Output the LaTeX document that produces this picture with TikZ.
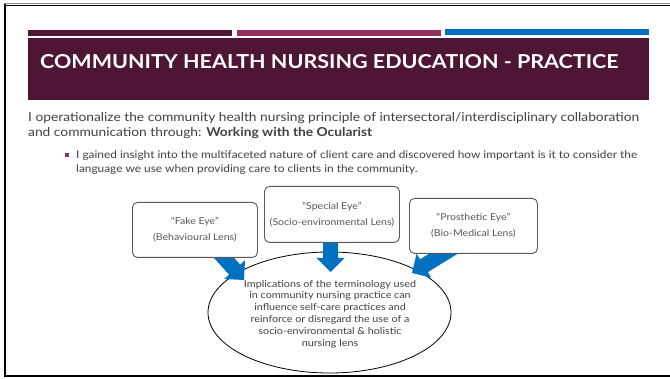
\documentclass[tikz,border=0pt]{standalone}
\usepackage{fontspec}
\setmainfont{Lato}[FakeStretch=1.12]
\usetikzlibrary{calc,shapes.geometric,backgrounds}
\definecolor{plum}{HTML}{4E1634}
\definecolor{mauve}{HTML}{92325F}
\definecolor{oblue}{HTML}{0070C0}
\definecolor{bodygray}{HTML}{404040}
\definecolor{boxgray}{HTML}{595959}
\newcommand\BlockArrow[2]{%
  \coordinate (hb) at ($(#2)!14pt!(#1)$);
  \fill[oblue] ($(hb)!7.5pt!90:(#2)$) -- ($(hb)!14pt!90:(#2)$) -- (#2)
     -- ($(hb)!14pt!-90:(#2)$) -- ($(hb)!7.5pt!-90:(#2)$)
     -- ($(#1)!7.5pt!-90:(#2)$) -- ($(#1)!7.5pt!90:(#2)$) -- cycle;}
\begin{document}
\begin{tikzpicture}[x=1pt,y=-1pt,
  lensbox/.style={draw=boxgray, line width=0.9pt, rounded corners=5pt, fill=white,
     inner sep=0pt, anchor=north west, align=center, text=boxgray,
     font=\fontsize{9.4}{16}\selectfont},
  bodytext/.style={anchor=base west, inner sep=0pt, text=bodygray}]
\useasboundingbox (0,0) rectangle (670,379);
% frame
\draw[black!45, line width=1.5pt] (4,3.5) -- (670,3.5);
\draw[black, line width=1.5pt] (4,5.5) -- (670,5.5);
\draw[black, line width=2pt] (5,4.5) -- (5,377);
\draw[black, line width=2pt] (4,376.5) -- (670,376.5);
% bars
\fill[plum] (28,30) rectangle (232,36);
\fill[mauve] (237,30) rectangle (441,36);
\fill[oblue] (445,29) rectangle (649,35);
% title
\fill[plum] (28,38) rectangle (649,100);
\node[anchor=base west, inner sep=0pt, text=white, font=\fontsize{19.2}{22}\selectfont\bfseries] (title) at (40,68.5)
  {COMMUNITY HEALTH NURSING EDUCATION - PRACTICE};
% body
\node[bodytext, font=\fontsize{12.3}{15}\selectfont] (l1) at (28,122)
  {I operationalize the community health nursing principle of intersectoral/interdisciplinary collaboration};
\node[bodytext, font=\fontsize{12.3}{15}\selectfont] (l2) at (28,137)
  {and communication through: \textbf{Working with the Ocularist}};
\fill[mauve] (64.5,153) rectangle (68.5,157);
\node[bodytext, font=\fontsize{10.6}{14}\selectfont] (b1) at (76,159)
  {I gained insight into the multifaceted nature of client care and discovered how important is it to consider the};
\node[bodytext, font=\fontsize{10.6}{14}\selectfont] (b2) at (76,173)
  {language we use when providing care to clients in the community.};
% lens boxes
\node[lensbox, minimum width=125pt, minimum height=55pt] (fake) at (132,202)
  {“Fake Eye”\\(Behavioural Lens)};
\node[lensbox, minimum width=135pt, minimum height=56pt] (special) at (264,186)
  {“Special Eye”\\(Socio-environmental Lens)};
\node[lensbox, minimum width=128pt, minimum height=55pt] (prosth) at (409,198)
  {“Prosthetic Eye”\\(Bio-Medical Lens)};
\begin{scope}[on background layer]
\node[draw=black, ellipse, line width=0.8pt, minimum width=243pt, minimum height=121pt, inner sep=0pt] (impl) at (329.5,312.5) {};
\coordinate (s1) at (216,249);
\coordinate (t1) at (244,280);
\coordinate (s2) at (330.5,236);
\coordinate (t2) at (330.5,272);
\coordinate (s3) at (456,246);
\coordinate (t3) at (412,273);
\BlockArrow{s1}{t1}
\BlockArrow{s2}{t2}
\BlockArrow{s3}{t3}
\end{scope}
\node[align=center, text=bodygray, font=\fontsize{9.6}{11.8}\selectfont, inner sep=0pt] (impltext) at (330,314)
  {Implications of the terminology used\\in community nursing practice can\\influence self-care practices and\\reinforce or disregard the use of a\\socio-environmental \& holistic\\nursing lens};
\end{tikzpicture}
\end{document}
